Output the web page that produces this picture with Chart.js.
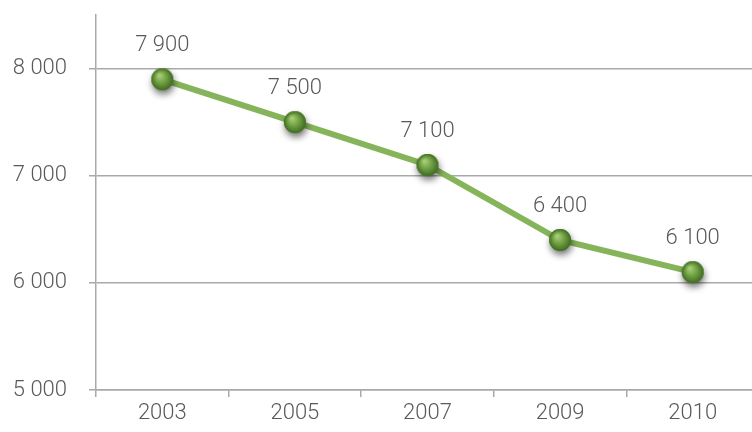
<!DOCTYPE html>
<html>
<head>
<meta charset="utf-8">
<script src="https://cdn.jsdelivr.net/npm/chart.js@4/dist/chart.umd.min.js"></script>
<style>
  html, body { margin: 0; padding: 0; background: #fff; overflow: hidden; }
  #wrap { position: relative; width: 760px; height: 432px; }
</style>
</head>
<body>
<div id="wrap"><canvas id="chart"></canvas></div>
<script>
// values
const years = ['2003', '2005', '2007', '2009', '2010'];
const counts = [7900, 7500, 7100, 6400, 6100];
const yTicks = [5000, 6000, 7000, 8000];
const yMin = 5000, yMax = 8500;

const gray = '#a9a9a9';
const textGray = '#595959';

function spaced(v) {
  return String(v).replace(/\B(?=(\d{3})+(?!\d))/g, ' ');
}

// little green ball with a soft shadow, used as the point style
function makeBall() {
  const c = document.createElement('canvas');
  c.width = 44; c.height = 44;
  const g = c.getContext('2d');
  const cx = 22, cy = 22, r = 11;
  g.save();
  g.shadowColor = 'rgba(0,0,0,0.55)';
  g.shadowBlur = 7;
  g.shadowOffsetY = 4;
  g.shadowOffsetX = 1;
  g.beginPath();
  g.arc(cx, cy, r, 0, Math.PI * 2);
  g.fillStyle = '#5a8a34';
  g.fill();
  g.restore();
  const grad = g.createRadialGradient(cx - 3, cy - 4, 1, cx, cy, r);
  grad.addColorStop(0, '#a6cc78');
  grad.addColorStop(0.45, '#74a446');
  grad.addColorStop(1, '#3f6b22');
  g.beginPath();
  g.arc(cx, cy, r, 0, Math.PI * 2);
  g.fillStyle = grad;
  g.fill();
  return c;
}

const valueLabels = {
  id: 'valueLabels',
  afterDatasetsDraw(chart) {
    const ctx = chart.ctx;
    const meta = chart.getDatasetMeta(0);
    ctx.save();
    ctx.font = '300 22px Roboto';
    ctx.fillStyle = textGray;
    ctx.textAlign = 'center';
    ctx.textBaseline = 'middle';
    meta.data.forEach((pt, i) => {
      ctx.fillText(spaced(chart.data.datasets[0].data[i]), pt.x, pt.y - 34);
    });
    ctx.restore();
  }
};

const ball = makeBall();
const tickFont = { family: 'Roboto', size: 22, weight: '300' };

const config = {
  type: 'line',
  data: {
    labels: years,
    datasets: [{
      data: counts,
      borderColor: '#86b45a',
      borderWidth: 6,
      tension: 0,
      pointStyle: ball,
      pointRadius: 11,
      pointHoverRadius: 11
    }]
  },
  options: {
    responsive: true,
    maintainAspectRatio: false,
    animation: false,
    layout: { autoPadding: false, padding: { top: 15, right: 1, left: 0, bottom: 0 } },
    plugins: { legend: { display: false }, tooltip: { enabled: false } },
    scales: {
      x: {
        offset: true,
        grid: {
          offset: true,
          drawOnChartArea: false,
          drawTicks: true,
          tickLength: 7,
          color: gray,
          lineWidth: 1.5
        },
        border: { color: gray, width: 1.5 },
        ticks: {
          color: textGray,
          font: tickFont,
          padding: 3,
          maxRotation: 0
        },
        afterFit(scale) {
          scale.height = 42;
          scale.paddingLeft = 0;
          scale.paddingRight = 0;
        }
      },
      y: {
        min: yMin,
        max: yMax,
        grid: {
          color: gray,
          lineWidth: 1.5,
          tickLength: 7
        },
        border: { color: gray, width: 1.5 },
        ticks: {
          color: textGray,
          font: tickFont,
          padding: 22,
          callback: v => spaced(v)
        },
        afterBuildTicks(scale) { scale.ticks = yTicks.map(v => ({ value: v })); },
        afterFit(scale) {
          scale.width = 96;
          scale.paddingTop = 0;
          scale.paddingBottom = 0;
        }
      }
    }
  },
  plugins: [valueLabels]
};

new Chart(document.getElementById('chart'), config);
</script>
</body>
</html>
